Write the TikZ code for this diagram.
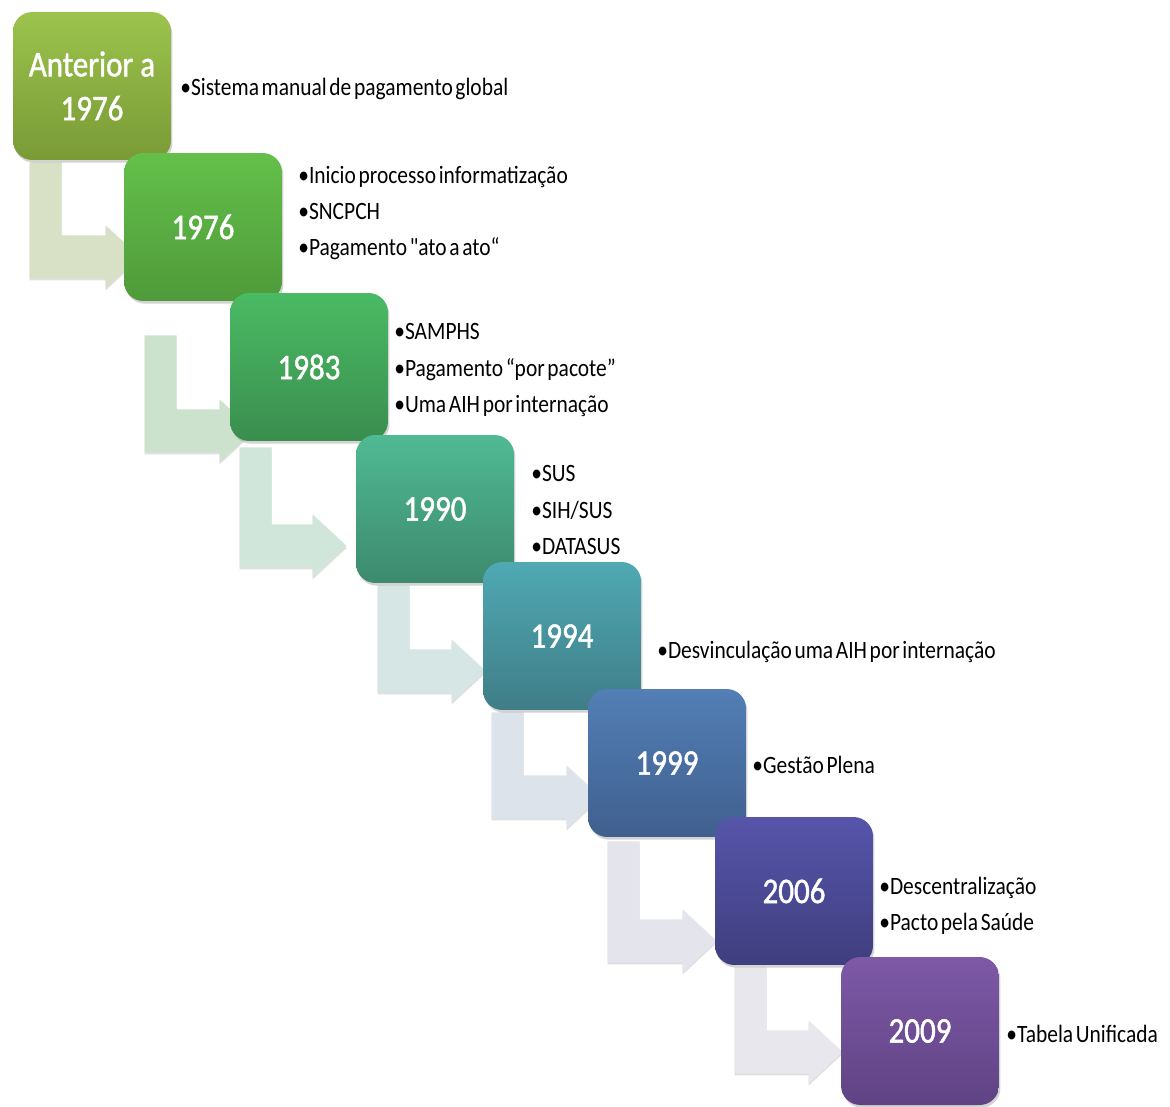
\documentclass[tikz,border=0pt]{standalone}
\usepackage{fontspec}
\usetikzlibrary{calc,shadows,backgrounds}

\newfontfamily\anofont{Carlito}[FakeStretch=0.86,FakeBold=1.3]
\newfontfamily\itemfont{Carlito}[FakeStretch=0.86,WordSpace=0.55]

\definecolor{verdeA}{HTML}{9BC34C}\definecolor{verdeAe}{HTML}{7A9A36}
\definecolor{verdeB}{HTML}{63C04A}\definecolor{verdeBe}{HTML}{4F9A3A}
\definecolor{verdeC}{HTML}{4ABA64}\definecolor{verdeCe}{HTML}{3A8E4E}
\definecolor{verdeD}{HTML}{4FBA94}\definecolor{verdeDe}{HTML}{3D8A6E}
\definecolor{azulA}{HTML}{4FA9B3}\definecolor{azulAe}{HTML}{3F7D87}
\definecolor{azulB}{HTML}{527FB6}\definecolor{azulBe}{HTML}{405F8E}
\definecolor{roxoA}{HTML}{5655AA}\definecolor{roxoAe}{HTML}{3F3E7F}
\definecolor{roxoB}{HTML}{7E59A6}\definecolor{roxoBe}{HTML}{5F4384}
\definecolor{setaA}{HTML}{D8E0C6}
\definecolor{setaB}{HTML}{CDE2CC}
\definecolor{setaC}{HTML}{D1E6DA}
\definecolor{setaD}{HTML}{D6E6E5}
\definecolor{setaE}{HTML}{DCE3EA}
\definecolor{setaF}{HTML}{E3E4EC}
\definecolor{setaG}{HTML}{E9E7EE}

\tikzset{
    ano/.style={rectangle, rounded corners=11pt, minimum width=3.16cm, minimum height=2.96cm,
        inner sep=0pt, text=white, align=center, font=\anofont\fontsize{20.5}{25}\selectfont,
        drop shadow={shadow xshift=0.8pt, shadow yshift=-1.5pt, opacity=0.35}},
    itens/.style={anchor=west, inner sep=0pt, align=left, font=\itemfont\fontsize{14.2}{20.7}\selectfont},
    seta/.style={drop shadow={shadow xshift=0pt, shadow yshift=-1.2pt, opacity=0.25}}
}

% seta dobrada: origem, destino, cor, dx, folga, recuo, dy
\newcommand{\seta}[7]{
        \coordinate (s1) at ($(#1.south west)+(#4,#5)$);
        \coordinate (s2) at ($(#2.south west)+(-#6,#7)$);
        \fill[#3, seta] (s1) -- ++(32,0) |- ($(s2)+(0,-43)$) -- ++(0,-10) -- ($(s2)+(34,-21.5)$)
            -- ($(s2)+(0,10)$) -- (s2) -| (s1) -- cycle;
}

\begin{document}
\begin{tikzpicture}[x=0.02cm, y=-0.02cm]
        \useasboundingbox (0,0) rectangle (1170,1106);

        \node[ano, top color=verdeA, bottom color=verdeAe] (a1975) at (92,86) {Anterior a\\1976};
        \node[ano, top color=verdeB, bottom color=verdeBe] (a1976) at (203,227) {1976};
        \node[ano, top color=verdeC, bottom color=verdeCe] (a1983) at (309,367) {1983};
        \node[ano, top color=verdeD, bottom color=verdeDe] (a1990) at (435,509) {1990};
        \node[ano, top color=azulA, bottom color=azulAe] (a1994) at (562,636) {1994};
        \node[ano, top color=azulB, bottom color=azulBe] (a1999) at (667,763) {1999};
        \node[ano, top color=roxoA, bottom color=roxoAe] (a2006) at (794,891) {2006};
        \node[ano, top color=roxoB, bottom color=roxoBe] (a2009) at (920,1031) {2009};

        \begin{pgfonlayer}{background}
        \seta{a1975}{a1976}{setaA}{17}{2}{18}{-23}
        \seta{a1976}{a1983}{setaB}{21}{34}{10}{11}
        \seta{a1983}{a1990}{setaC}{10}{6}{43}{-16}
        \seta{a1990}{a1994}{setaD}{22}{2}{31}{-18}
        \seta{a1994}{a1999}{setaE}{9}{2}{21}{-19}
        \seta{a1999}{a2006}{setaF}{20}{4}{32}{-3}
        \seta{a2006}{a2009}{setaG}{20}{2}{32}{-32}
        \end{pgfonlayer}

        \node[itens] (t1975) at (180,89) {•Sistema manual de pagamento global};
        \node[itens] (t1976) at (298,213) {•Inicio processo informatização\\•SNCPCH\\•Pagamento "ato a ato“};
        \node[itens] (t1983) at (394,370) {•SAMPHS\\•Pagamento “por pacote”\\•Uma AIH por internação};
        \node[itens] (t1990) at (531,510) {•SUS\\•SIH/SUS\\•DATASUS};
        \node[itens] (t1994) at (657,652) {•Desvinculação uma AIH por internação};
        \node[itens] (t1999) at (752,765) {•Gestão Plena};
        \node[itens] (t2006) at (879,906) {•Descentralização\\•Pacto pela Saúde};
        \node[itens] (t2009) at (1006,1034) {•Tabela Unificada};
\end{tikzpicture}
\end{document}
